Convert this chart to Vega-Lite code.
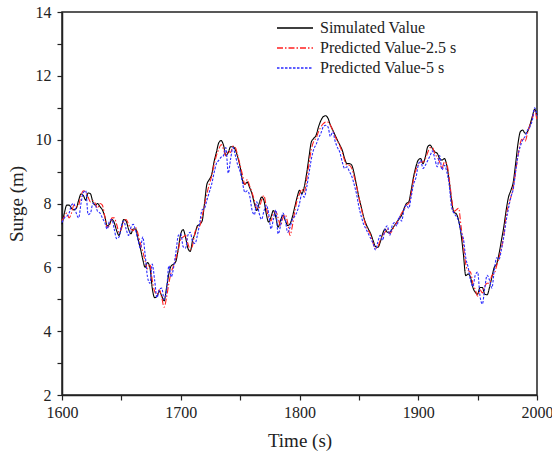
{
  "$schema": "https://vega.github.io/schema/vega-lite/v6.json",
  "width": 475,
  "height": 383,
  "autosize": {"type": "none"},
  "padding": {"left": 62, "top": 12, "right": 15, "bottom": 64},
  "background": "white",
  "config": {
    "view": {"stroke": "#222222", "strokeWidth": 1.5},
    "font": "Liberation Serif",
    "axis": {"grid": false, "domainColor": "#222222", "domainWidth": 1.5, "tickColor": "#222222", "tickWidth": 1.2, "labelColor": "#222222", "titleColor": "#222222", "labelFont": "Liberation Serif", "titleFont": "Liberation Serif", "labelFontSize": 16, "titleFontSize": 19, "titleFontWeight": "normal"},
    "legend": {"labelFont": "Liberation Serif", "labelFontSize": 16, "labelColor": "#222222"}
  },
  "data": {"values": [
{"t":1600,"a":7.35,"b":7.45,"c":7.4},
{"t":1602,"a":7.7,"b":7.6,"c":7.55},
{"t":1604,"a":7.95,"b":7.7,"c":7.6},
{"t":1606,"a":7.95,"b":7.55,"c":7.7},
{"t":1608,"a":7.85,"b":7.7,"c":7.95},
{"t":1610,"a":7.8,"b":7.95,"c":8.0},
{"t":1612,"a":7.85,"b":7.9,"c":7.7},
{"t":1614,"a":8.1,"b":7.95,"c":7.55},
{"t":1616,"a":8.3,"b":8.25,"c":8.0},
{"t":1618,"a":8.25,"b":8.4,"c":8.35},
{"t":1620,"a":8.1,"b":8.35,"c":8.4},
{"t":1622,"a":8.33,"b":8.2,"c":7.65},
{"t":1624,"a":8.3,"b":8.05,"c":7.7},
{"t":1626,"a":8.05,"b":8.1,"c":8.0},
{"t":1628,"a":7.95,"b":8.0,"c":7.95},
{"t":1630,"a":8.0,"b":7.85,"c":7.75},
{"t":1632,"a":7.9,"b":8.0,"c":7.7},
{"t":1634,"a":7.8,"b":7.95,"c":7.55},
{"t":1636,"a":7.6,"b":7.6,"c":7.4},
{"t":1638,"a":7.3,"b":7.25,"c":7.2},
{"t":1640,"a":7.35,"b":7.3,"c":7.45},
{"t":1642,"a":7.5,"b":7.55,"c":7.5},
{"t":1644,"a":7.4,"b":7.55,"c":7.2},
{"t":1646,"a":7.15,"b":7.35,"c":6.9},
{"t":1648,"a":7.0,"b":7.1,"c":6.95},
{"t":1650,"a":7.25,"b":7.2,"c":7.3},
{"t":1652,"a":7.5,"b":7.45,"c":7.45},
{"t":1654,"a":7.45,"b":7.5,"c":7.2},
{"t":1656,"a":7.2,"b":7.35,"c":7.0},
{"t":1658,"a":7.05,"b":7.2,"c":7.25},
{"t":1660,"a":7.2,"b":7.15,"c":7.35},
{"t":1662,"a":7.2,"b":7.25,"c":7.15},
{"t":1664,"a":6.9,"b":7.05,"c":6.85},
{"t":1666,"a":6.6,"b":6.75,"c":6.6},
{"t":1668,"a":6.25,"b":6.5,"c":6.95},
{"t":1670,"a":6.0,"b":6.2,"c":6.4},
{"t":1672,"a":6.15,"b":5.95,"c":5.7},
{"t":1674,"a":6.0,"b":6.1,"c":5.5},
{"t":1676,"a":5.35,"b":5.6,"c":6.1},
{"t":1678,"a":5.05,"b":5.25,"c":5.6},
{"t":1680,"a":5.1,"b":5.15,"c":5.05},
{"t":1682,"a":5.25,"b":5.3,"c":5.3},
{"t":1684,"a":5.1,"b":5.05,"c":5.35},
{"t":1686,"a":4.95,"b":4.75,"c":5.0},
{"t":1688,"a":5.35,"b":5.05,"c":5.25},
{"t":1690,"a":5.8,"b":5.5,"c":6.05},
{"t":1692,"a":6.05,"b":5.85,"c":5.7},
{"t":1694,"a":6.1,"b":6.05,"c":6.0},
{"t":1696,"a":6.2,"b":6.3,"c":6.5},
{"t":1698,"a":6.6,"b":6.55,"c":7.0},
{"t":1700,"a":7.05,"b":6.9,"c":7.05},
{"t":1702,"a":7.18,"b":6.95,"c":6.65},
{"t":1704,"a":6.95,"b":7.0,"c":6.6},
{"t":1706,"a":6.6,"b":6.75,"c":7.0},
{"t":1708,"a":6.5,"b":6.55,"c":7.1},
{"t":1710,"a":6.85,"b":6.7,"c":6.8},
{"t":1712,"a":7.05,"b":7.1,"c":6.75},
{"t":1714,"a":7.3,"b":7.25,"c":7.0},
{"t":1716,"a":7.35,"b":7.3,"c":7.4},
{"t":1718,"a":7.45,"b":7.6,"c":7.8},
{"t":1720,"a":8.0,"b":7.95,"c":7.85},
{"t":1722,"a":8.6,"b":8.3,"c":8.1},
{"t":1724,"a":8.75,"b":8.6,"c":8.35},
{"t":1726,"a":8.9,"b":8.85,"c":8.6},
{"t":1728,"a":9.3,"b":9.2,"c":8.95},
{"t":1730,"a":9.6,"b":9.5,"c":9.25},
{"t":1732,"a":9.9,"b":9.7,"c":9.35},
{"t":1734,"a":9.97,"b":9.85,"c":9.45},
{"t":1736,"a":9.83,"b":9.7,"c":9.5},
{"t":1738,"a":9.5,"b":9.5,"c":9.75},
{"t":1740,"a":9.6,"b":9.65,"c":8.95},
{"t":1742,"a":9.78,"b":9.6,"c":9.4},
{"t":1744,"a":9.78,"b":9.8,"c":9.75},
{"t":1746,"a":9.68,"b":9.75,"c":9.5},
{"t":1748,"a":9.45,"b":9.5,"c":9.2},
{"t":1750,"a":9.15,"b":9.2,"c":9.0},
{"t":1752,"a":8.73,"b":8.9,"c":8.65},
{"t":1754,"a":8.6,"b":8.6,"c":8.35},
{"t":1756,"a":8.67,"b":8.75,"c":8.4},
{"t":1758,"a":8.5,"b":8.55,"c":8.25},
{"t":1760,"a":8.3,"b":8.35,"c":7.8},
{"t":1762,"a":8.0,"b":8.1,"c":7.65},
{"t":1764,"a":7.78,"b":7.85,"c":8.05},
{"t":1766,"a":8.0,"b":7.85,"c":7.7},
{"t":1768,"a":8.2,"b":8.1,"c":7.5},
{"t":1770,"a":8.1,"b":8.25,"c":7.75},
{"t":1772,"a":7.68,"b":7.9,"c":7.95},
{"t":1774,"a":7.42,"b":7.55,"c":7.7},
{"t":1776,"a":7.58,"b":7.45,"c":7.2},
{"t":1778,"a":7.78,"b":7.7,"c":7.5},
{"t":1780,"a":7.58,"b":7.75,"c":7.8},
{"t":1782,"a":7.26,"b":7.55,"c":7.05},
{"t":1784,"a":7.47,"b":7.3,"c":7.3},
{"t":1786,"a":7.63,"b":7.55,"c":7.7},
{"t":1788,"a":7.47,"b":7.65,"c":7.5},
{"t":1790,"a":7.31,"b":7.4,"c":7.1},
{"t":1792,"a":7.36,"b":7.0,"c":7.25},
{"t":1794,"a":7.58,"b":7.3,"c":7.5},
{"t":1796,"a":7.89,"b":7.75,"c":7.6},
{"t":1798,"a":8.2,"b":8.1,"c":7.75},
{"t":1800,"a":8.41,"b":8.3,"c":8.0},
{"t":1802,"a":8.31,"b":8.45,"c":8.3},
{"t":1804,"a":8.52,"b":8.35,"c":8.2},
{"t":1806,"a":8.94,"b":8.75,"c":8.5},
{"t":1808,"a":9.46,"b":9.25,"c":8.95},
{"t":1810,"a":9.93,"b":9.7,"c":9.4},
{"t":1812,"a":10.04,"b":9.95,"c":9.7},
{"t":1814,"a":10.14,"b":10.05,"c":9.85},
{"t":1816,"a":10.4,"b":10.25,"c":10.05},
{"t":1818,"a":10.6,"b":10.4,"c":10.2},
{"t":1820,"a":10.72,"b":10.5,"c":10.4},
{"t":1822,"a":10.75,"b":10.55,"c":10.45},
{"t":1824,"a":10.67,"b":10.55,"c":10.4},
{"t":1826,"a":10.46,"b":10.45,"c":10.1},
{"t":1828,"a":10.3,"b":10.3,"c":10.25},
{"t":1830,"a":10.14,"b":10.1,"c":9.95},
{"t":1832,"a":9.98,"b":9.95,"c":9.75},
{"t":1834,"a":9.83,"b":9.8,"c":9.6},
{"t":1836,"a":9.67,"b":9.6,"c":9.3},
{"t":1838,"a":9.41,"b":9.35,"c":9.1},
{"t":1840,"a":9.25,"b":9.2,"c":9.15},
{"t":1842,"a":9.25,"b":9.2,"c":9.0},
{"t":1844,"a":9.2,"b":9.1,"c":8.85},
{"t":1846,"a":8.94,"b":8.85,"c":8.6},
{"t":1848,"a":8.57,"b":8.55,"c":8.3},
{"t":1850,"a":8.2,"b":8.2,"c":7.9},
{"t":1852,"a":7.89,"b":7.85,"c":7.6},
{"t":1854,"a":7.58,"b":7.55,"c":7.35},
{"t":1856,"a":7.36,"b":7.3,"c":7.2},
{"t":1858,"a":7.2,"b":7.15,"c":7.05},
{"t":1860,"a":7.05,"b":7.0,"c":6.9},
{"t":1862,"a":6.84,"b":6.75,"c":6.75},
{"t":1864,"a":6.65,"b":6.6,"c":6.55},
{"t":1866,"a":6.63,"b":6.65,"c":6.8},
{"t":1868,"a":6.79,"b":6.85,"c":7.0},
{"t":1870,"a":7.05,"b":7.0,"c":6.85},
{"t":1872,"a":7.2,"b":7.1,"c":7.2},
{"t":1874,"a":7.1,"b":7.2,"c":7.3},
{"t":1876,"a":7.1,"b":7.05,"c":7.0},
{"t":1878,"a":7.2,"b":7.15,"c":7.3},
{"t":1880,"a":7.31,"b":7.3,"c":7.4},
{"t":1882,"a":7.42,"b":7.4,"c":7.3},
{"t":1884,"a":7.52,"b":7.55,"c":7.6},
{"t":1886,"a":7.63,"b":7.7,"c":7.45},
{"t":1888,"a":7.84,"b":7.8,"c":7.8},
{"t":1890,"a":8.0,"b":7.95,"c":7.95},
{"t":1892,"a":8.05,"b":8.0,"c":7.85},
{"t":1894,"a":8.41,"b":8.3,"c":8.2},
{"t":1896,"a":8.83,"b":8.75,"c":8.6},
{"t":1898,"a":9.15,"b":9.05,"c":8.8},
{"t":1900,"a":9.36,"b":9.2,"c":9.2},
{"t":1902,"a":9.41,"b":9.3,"c":9.35},
{"t":1904,"a":9.25,"b":9.3,"c":9.1},
{"t":1906,"a":9.46,"b":9.4,"c":9.2},
{"t":1908,"a":9.78,"b":9.6,"c":9.35},
{"t":1910,"a":9.83,"b":9.75,"c":9.5},
{"t":1912,"a":9.72,"b":9.75,"c":9.65},
{"t":1914,"a":9.62,"b":9.55,"c":9.4},
{"t":1916,"a":9.57,"b":9.45,"c":9.15},
{"t":1918,"a":9.41,"b":9.3,"c":9.5},
{"t":1920,"a":9.36,"b":9.1,"c":9.05},
{"t":1922,"a":9.41,"b":9.3,"c":9.2},
{"t":1924,"a":9.2,"b":9.25,"c":9.0},
{"t":1926,"a":8.73,"b":8.8,"c":8.6},
{"t":1928,"a":8.1,"b":8.2,"c":7.9},
{"t":1930,"a":7.73,"b":7.75,"c":7.7},
{"t":1932,"a":7.68,"b":7.8,"c":7.6},
{"t":1934,"a":7.47,"b":7.85,"c":7.45},
{"t":1936,"a":7.05,"b":7.3,"c":7.1},
{"t":1938,"a":6.42,"b":6.7,"c":6.9},
{"t":1940,"a":5.74,"b":6.1,"c":6.3},
{"t":1942,"a":5.79,"b":5.9,"c":6.0},
{"t":1944,"a":5.69,"b":5.85,"c":5.6},
{"t":1946,"a":5.37,"b":5.5,"c":5.4},
{"t":1948,"a":5.22,"b":5.3,"c":5.75},
{"t":1950,"a":5.16,"b":5.1,"c":5.85},
{"t":1952,"a":5.37,"b":5.3,"c":5.1},
{"t":1954,"a":5.37,"b":5.2,"c":4.85},
{"t":1956,"a":5.16,"b":5.4,"c":5.35},
{"t":1958,"a":5.14,"b":5.5,"c":5.75},
{"t":1960,"a":5.37,"b":5.5,"c":5.6},
{"t":1962,"a":5.69,"b":5.75,"c":5.35},
{"t":1964,"a":6.0,"b":5.8,"c":5.9},
{"t":1966,"a":6.1,"b":6.05,"c":6.3},
{"t":1968,"a":6.42,"b":6.3,"c":6.25},
{"t":1970,"a":6.84,"b":6.6,"c":6.55},
{"t":1972,"a":7.26,"b":7.0,"c":6.95},
{"t":1974,"a":7.78,"b":7.6,"c":7.45},
{"t":1976,"a":8.2,"b":7.95,"c":7.85},
{"t":1978,"a":8.41,"b":8.2,"c":8.2},
{"t":1980,"a":8.67,"b":8.5,"c":8.45},
{"t":1982,"a":9.25,"b":9.0,"c":9.0},
{"t":1984,"a":9.88,"b":9.5,"c":9.5},
{"t":1986,"a":10.25,"b":9.9,"c":9.8},
{"t":1988,"a":10.3,"b":10.05,"c":10.0},
{"t":1990,"a":10.2,"b":9.95,"c":10.1},
{"t":1992,"a":10.25,"b":10.2,"c":10.3},
{"t":1994,"a":10.46,"b":10.45,"c":10.4},
{"t":1996,"a":10.72,"b":10.65,"c":10.6},
{"t":1998,"a":10.95,"b":10.9,"c":11.0},
{"t":2000,"a":10.77,"b":10.6,"c":10.75}
  ]},
  "transform": [{"fold": ["a", "b", "c"], "as": ["series", "v"]}],
  "mark": {"type": "line", "strokeWidth": 1.1, "interpolate": "monotone"},
  "encoding": {
    "x": {"field": "t", "type": "quantitative", "scale": {"domain": [1600, 2000], "nice": false, "zero": false},
      "axis": {"title": "Time (s)", "values": [1600,1650,1700,1750,1800,1850,1900,1950,2000], "labelExpr": "datum.value % 100 == 0 ? datum.label : ''", "format": "d", "tickSize": 5, "labelPadding": 4, "titlePadding": 11, "labelFlush": false}},
    "y": {"field": "v", "type": "quantitative", "scale": {"domain": [2, 14], "nice": false, "zero": false},
      "axis": {"title": "Surge (m)", "values": [2,3,4,5,6,7,8,9,10,11,12,13,14], "labelExpr": "datum.value % 2 == 0 ? datum.label : ''", "tickSize": 5, "labelPadding": 6, "titlePadding": 9}},
    "color": {"field": "series", "type": "nominal",
      "scale": {"domain": ["a", "b", "c"], "range": ["#000000", "#ff2020", "#2a2aff"]},
      "legend": {"title": null, "orient": "none", "legendX": 222, "legendY": 5, "symbolType": "M-1.8,0H1.8", "symbolSize": 400, "symbolStrokeWidth": 1.3, "rowPadding": 1, "labelOffset": 14, "labelFont": "Liberation Serif", "labelFontSize": 16, "labelColor": "#222222",
        "labelExpr": "datum.value == 'a' ? 'Simulated Value' : datum.value == 'b' ? 'Predicted Value-2.5 s' : 'Predicted Value-5 s'"}},
    "strokeDash": {"field": "series", "type": "nominal",
      "scale": {"domain": ["a", "b", "c"], "range": [[1, 0], [6, 2, 1.5, 2], [2.5, 1.5]]},
      "legend": {"title": null, "orient": "none", "legendX": 222, "legendY": 5, "symbolType": "M-1.8,0H1.8", "symbolSize": 400, "symbolStrokeWidth": 1.3, "rowPadding": 1, "labelOffset": 14, "labelFont": "Liberation Serif", "labelFontSize": 16, "labelColor": "#222222",
        "labelExpr": "datum.value == 'a' ? 'Simulated Value' : datum.value == 'b' ? 'Predicted Value-2.5 s' : 'Predicted Value-5 s'"}}
  }
}
